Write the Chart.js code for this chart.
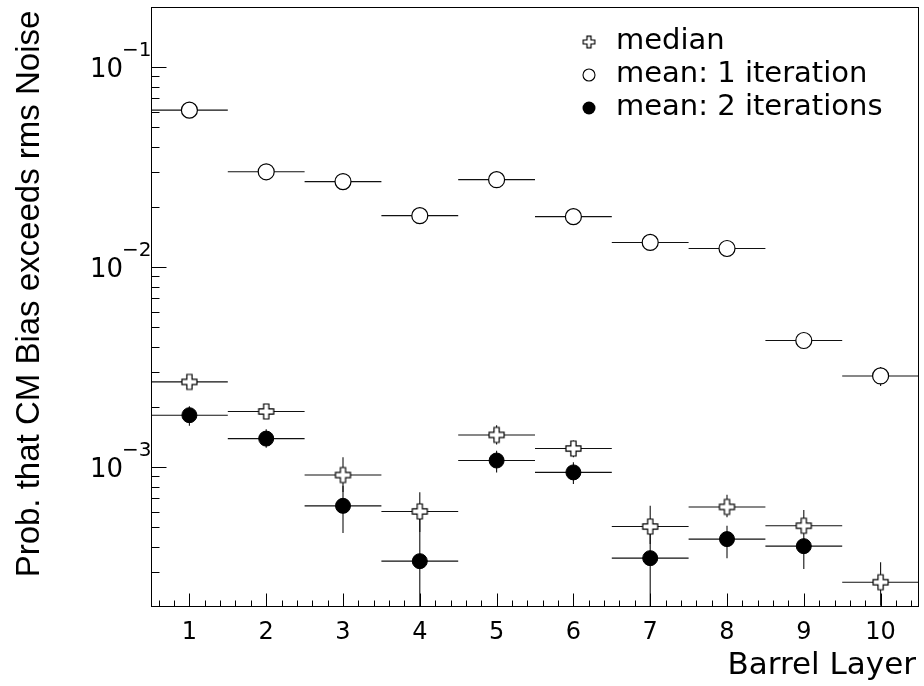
<!DOCTYPE html>
<html><head><meta charset="utf-8">
<script src="https://cdn.jsdelivr.net/npm/chart.js@4/dist/chart.umd.min.js"></script>
<style>html,body{margin:0;padding:0;background:#fff;}canvas{display:block;}</style>
</head><body>
<canvas id="c" width="924" height="686"></canvas>
<script>
// ---- data ----
const layers = [1, 2, 3, 4, 5, 6, 7, 8, 9, 10];
const layerHalfWidth = [0.5, 0.5, 0.5, 0.5, 0.5, 0.5, 0.5, 0.5, 0.5, 0.5];

const median     = [0.00267, 0.00190, 0.000914, 0.000601, 0.00145, 0.00124, 0.000505, 0.000633, 0.000510, 0.000266];
const medianLow  = [0.00250, 0.00178, 0.000751, 0.000474, 0.00130, 0.00112, 0.000413, 0.000562, 0.000463, 0.000203];
const medianHigh = [0.00285, 0.00203, 0.00112,  0.000749, 0.00162, 0.00136, 0.000641, 0.000728, 0.000611, 0.000335];

const mean1     = [0.061, 0.0300, 0.0268, 0.0181, 0.0274, 0.0179, 0.0133, 0.0124, 0.00430, 0.00286];
const mean1Low  = [0.059, 0.0290, 0.0259, 0.0175, 0.0265, 0.0173, 0.0128, 0.0119, 0.00397, 0.00255];
const mean1High = [0.063, 0.0310, 0.0277, 0.0187, 0.0283, 0.0185, 0.0138, 0.0129, 0.00467, 0.00317];

const mean2     = [0.00182, 0.00139, 0.000641, 0.000339, 0.00108, 0.000942, 0.000351, 0.000437, 0.000403, null];
const mean2Low  = [0.00161, 0.00125, 0.000469, 0.00015,  0.000942, 0.000824, 0.00015, 0.000351, 0.000310, null];
const mean2High = [0.00202, 0.00155, 0.000807, 0.000551, 0.00121, 0.00106, 0.000474, 0.000510, 0.000463, null];

const xTickLabels = ['1', '2', '3', '4', '5', '6', '7', '8', '9', '10'];
const yDecades = [-1, -2, -3];
const seriesNames = ['median', 'mean: 1 iteration', 'mean: 2 iterations'];
const xTitle = 'Barrel Layer';
const yTitle = 'Prob. that CM Bias exceeds rms Noise';

// ---- markers ----
function plusPath(ctx, cx, cy, L, a) {
  ctx.beginPath();
  ctx.moveTo(cx - a, cy - L); ctx.lineTo(cx + a, cy - L); ctx.lineTo(cx + a, cy - a);
  ctx.lineTo(cx + L, cy - a); ctx.lineTo(cx + L, cy + a); ctx.lineTo(cx + a, cy + a);
  ctx.lineTo(cx + a, cy + L); ctx.lineTo(cx - a, cy + L); ctx.lineTo(cx - a, cy + a);
  ctx.lineTo(cx - L, cy + a); ctx.lineTo(cx - L, cy - a); ctx.lineTo(cx - a, cy - a);
  ctx.closePath();
}
function makeCross(size, L, a) {
  const cv = document.createElement('canvas');
  cv.width = size; cv.height = size;
  const g = cv.getContext('2d');
  plusPath(g, size / 2, size / 2, L, a);
  g.fillStyle = '#fff'; g.fill();
  g.strokeStyle = '#000'; g.lineWidth = 1.2; g.stroke();
  return cv;
}
const crossImg = makeCross(19, 7.5, 2.6);
const crossImgSmall = makeCross(15, 5.8, 2.0);

const pts = (ys) => layers.map((x, i) => ({ x: x, y: ys[i] })).filter(p => p.y !== null);

const errSets = [
  { v: median, lo: medianLow, hi: medianHigh },
  { v: mean1, lo: mean1Low, hi: mean1High },
  { v: mean2, lo: mean2Low, hi: mean2High }
];

const rootPlugin = {
  id: 'rootStyle',
  beforeDatasetsDraw(chart) {
    const ctx = chart.ctx, xs = chart.scales.x, ys = chart.scales.y, ca = chart.chartArea;
    ctx.save();
    ctx.beginPath(); ctx.rect(ca.left, ca.top, ca.right - ca.left, ca.bottom - ca.top); ctx.clip();
    ctx.strokeStyle = '#111'; ctx.lineWidth = 1.1;
    errSets.forEach(s => {
      layers.forEach((x, i) => {
        if (s.v[i] === null) return;
        const py = ys.getPixelForValue(s.v[i]);
        const x0 = xs.getPixelForValue(x - layerHalfWidth[i]);
        const x1 = xs.getPixelForValue(x + layerHalfWidth[i]);
        const px = xs.getPixelForValue(x);
        ctx.beginPath(); ctx.moveTo(x0, py); ctx.lineTo(x1, py); ctx.stroke();
        ctx.beginPath();
        ctx.moveTo(px, ys.getPixelForValue(s.hi[i]));
        ctx.lineTo(px, ys.getPixelForValue(s.lo[i]));
        ctx.stroke();
      });
    });
    ctx.restore();
  },
  afterDraw(chart) {
    const ctx = chart.ctx, xs = chart.scales.x, ys = chart.scales.y, ca = chart.chartArea;
    ctx.save();
    // frame
    ctx.strokeStyle = '#000'; ctx.lineWidth = 1;
    ctx.strokeRect(Math.round(ca.left) + 0.5, Math.round(ca.top) + 0.5,
      Math.round(ca.right - ca.left) - 1, Math.round(ca.bottom - ca.top) - 1);
    const L = Math.round(ca.left) + 0.5, B = Math.round(ca.bottom) - 0.5;
    // y ticks
    ctx.beginPath();
    yDecades.concat([-4, 0]).forEach(d => {
      for (let m = 1; m <= 9; m++) {
        const v = m * Math.pow(10, d);
        if (v <= ys.min * 1.001 || v >= ys.max * 0.999) continue;
        const py = Math.round(ys.getPixelForValue(v)) + 0.5;
        const len = m === 1 ? 15 : 8;
        ctx.moveTo(L, py); ctx.lineTo(L + len, py);
      }
    });
    // x ticks
    for (let k = 0; k <= 50; k++) {
      const vr = Math.round((xs.min + k * 0.2 + 0.1) * 10) / 10;
      if (vr <= xs.min || vr >= xs.max) continue;
      const px = Math.round(xs.getPixelForValue(vr)) + 0.5;
      const major = Math.abs(vr - Math.round(vr)) < 1e-6;
      ctx.moveTo(px, B); ctx.lineTo(px, B - (major ? 13 : 6));
    }
    ctx.stroke();

    ctx.fillStyle = '#000';
    ctx.textBaseline = 'alphabetic';
    // x tick labels
    ctx.font = '24px "DejaVu Sans"';
    ctx.textAlign = 'center';
    layers.forEach((x, i) => ctx.fillText(xTickLabels[i], xs.getPixelForValue(x), 639));
    // y tick labels 10^d
    yDecades.forEach(d => {
      const py = ys.getPixelForValue(Math.pow(10, d));
      ctx.font = '26px "DejaVu Sans"'; ctx.textAlign = 'right';
      ctx.fillText('10', 123, py + 10);
      ctx.font = '20px "DejaVu Sans"'; ctx.textAlign = 'left';
      ctx.fillText('\u2212' + String(-d), 122, py - 11);
    });
    // axis titles
    ctx.font = '31px "DejaVu Sans"'; ctx.textAlign = 'right';
    ctx.fillText(xTitle, 916, 674);
    ctx.save();
    ctx.translate(39, 294); ctx.rotate(-Math.PI / 2);
    ctx.font = '33px "Liberation Sans"'; ctx.textAlign = 'center';
    ctx.fillText(yTitle, 0, 0);
    ctx.restore();
    // legend
    const rows = [42, 75, 108];
    ctx.font = '29px "DejaVu Sans"'; ctx.textAlign = 'left'; ctx.textBaseline = 'middle';
    seriesNames.forEach((n, i) => ctx.fillText(n, 616, rows[i] - 1));
    ctx.drawImage(crossImgSmall, 589 - 7.5, rows[0] - 7.5);
    ctx.beginPath(); ctx.arc(589, rows[1], 6, 0, Math.PI * 2);
    ctx.fillStyle = '#fff'; ctx.fill(); ctx.strokeStyle = '#000'; ctx.lineWidth = 1.1; ctx.stroke();
    ctx.beginPath(); ctx.arc(589, rows[2], 6.5, 0, Math.PI * 2);
    ctx.fillStyle = '#000'; ctx.fill();
    ctx.restore();
  }
};

new Chart(document.getElementById('c'), {
  type: 'scatter',
  data: {
    datasets: [
      { label: seriesNames[0], data: pts(median), pointStyle: crossImg, pointRadius: 8 },
      { label: seriesNames[1], data: pts(mean1), pointStyle: 'circle', pointRadius: 8,
        backgroundColor: '#fff', borderColor: '#000', borderWidth: 1.2 },
      { label: seriesNames[2], data: pts(mean2), pointStyle: 'circle', pointRadius: 7.5,
        backgroundColor: '#000', borderColor: '#000', borderWidth: 1 }
    ]
  },
  options: {
    responsive: false, animation: false, devicePixelRatio: 1,
    layout: { autoPadding: false, padding: { left: 151, top: 7, right: 5, bottom: 79 } },
    plugins: { legend: { display: false }, tooltip: { enabled: false } },
    scales: {
      x: { type: 'linear', min: 0.5, max: 10.5, display: false },
      y: { type: 'logarithmic', min: 0.0002, max: 0.2, display: false }
    }
  },
  plugins: [rootPlugin]
});
</script>
</body></html>
